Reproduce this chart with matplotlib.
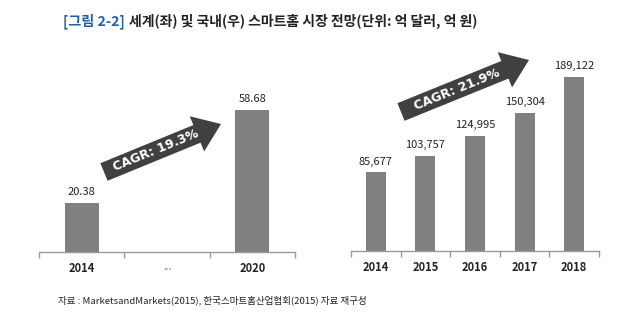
import math
import matplotlib
matplotlib.use("Agg")
import matplotlib.pyplot as plt
from matplotlib.patches import FancyArrow

plt.rcParams['font.family'] = ['Noto Sans CJK KR', 'DejaVu Sans']

# World market (100M USD)
world_years = ["2014", "...", "2020"]
world_values = [20.38, None, 58.68]
world_labels = ["20.38", "", "58.68"]

# Domestic market (100M KRW)
kr_years = ["2014", "2015", "2016", "2017", "2018"]
kr_values = [85677, 103757, 124995, 150304, 189122]

BAR = "#808080"
ARROW = "#404040"
AXIS = "#9a9a9a"
TXT = "#222222"

W, H = 618, 328
fig = plt.figure(figsize=(W / 100, H / 100), dpi=100)
fig.patch.set_facecolor("white")


def style_axis(ax, n):
    for s in ("top", "right", "left"):
        ax.spines[s].set_visible(False)
    ax.spines["bottom"].set_color(AXIS)
    ax.spines["bottom"].set_linewidth(1.0)
    ax.set_yticks([])
    ax.set_xlim(-0.5, n - 0.5)
    ax.set_xticks(range(n))
    ax.tick_params(axis="x", length=0, pad=7)
    ax.set_xticks([i - 0.5 for i in range(n + 1)], minor=True)
    ax.tick_params(axis="x", which="minor", length=4, color=AXIS, width=1.0)
    ax.set_facecolor("none")


# Left panel: world
axL = fig.add_axes([39 / W, 1 - 252 / H, 256 / W, 193.6 / H])
xs = [i for i, v in enumerate(world_values) if v is not None]
vs = [v for v in world_values if v is not None]
axL.bar(xs, vs, width=0.4, color=BAR)
axL.set_ylim(0, 80)
style_axis(axL, len(world_years))
axL.set_xticklabels(world_years, fontsize=8, fontweight="bold", color=TXT)
for lab in axL.get_xticklabels():
    if lab.get_text() == "...":
        lab.set_fontweight("normal")
        lab.set_color("#777777")
        lab.set_fontsize(7)
for x, v, lab in zip(range(len(world_values)), world_values, world_labels):
    if v is not None:
        axL.annotate(lab, (x, v), xytext=(0, 4), textcoords="offset points",
                     ha="center", va="bottom", fontsize=8, color=TXT)

# Right panel: domestic
axR = fig.add_axes([351 / W, 1 - 251 / H, 248 / W, 184 / H])
axR.bar(range(len(kr_values)), kr_values, width=0.4, color=BAR)
axR.set_ylim(0, 200000)
style_axis(axR, len(kr_years))
axR.set_xticklabels(kr_years, fontsize=8, fontweight="bold", color=TXT)
for x, v in enumerate(kr_values):
    axR.annotate(f"{v:,}", (x, v), xytext=(0, 4), textcoords="offset points",
                 ha="center", va="bottom", fontsize=8, color=TXT)


def growth_arrow(x0, y0, x1, y1, label):
    # coordinates in pixels from the top-left corner
    t = fig.dpi_scale_trans
    ax0, ay0 = x0 / 100, (H - y0) / 100
    dx, dy = (x1 - x0) / 100, -(y1 - y0) / 100
    arr = FancyArrow(ax0, ay0, dx, dy, width=0.19, head_width=0.38,
                     head_length=0.26, length_includes_head=True,
                     color=ARROW, transform=t, linewidth=0)
    fig.add_artist(arr)
    ang = math.degrees(math.atan2(dy, dx))
    fig.text(ax0 + dx * 0.44, ay0 + dy * 0.44, label, transform=t,
             rotation=ang, rotation_mode="anchor", ha="center", va="center",
             fontsize=9, fontweight="bold", color="white",
             family=["DejaVu Sans"])


growth_arrow(104, 172, 221, 124, "CAGR: 19.3%")
growth_arrow(401, 112, 529, 60, "CAGR: 21.9%")

# Title
fig.text(63 / W, 1 - 21 / H, "[그림 2-2]", ha="left", va="center",
         fontsize=10.2, fontweight="bold", color="#1f5fa8")
fig.text(129 / W, 1 - 21 / H, "세계(좌) 및 국내(우) 스마트홈 시장 전망(단위: 억 달러, 억 원)",
         ha="left", va="center", fontsize=10, fontweight="bold", color="#222222")

# Source
fig.text(58 / W, 1 - 300 / H,
         "자료 : MarketsandMarkets(2015), 한국스마트홈산업협회(2015) 자료 재구성",
         ha="left", va="center", fontsize=6.9, color="#222222")

fig.savefig("out.png", dpi=100, facecolor="white")
